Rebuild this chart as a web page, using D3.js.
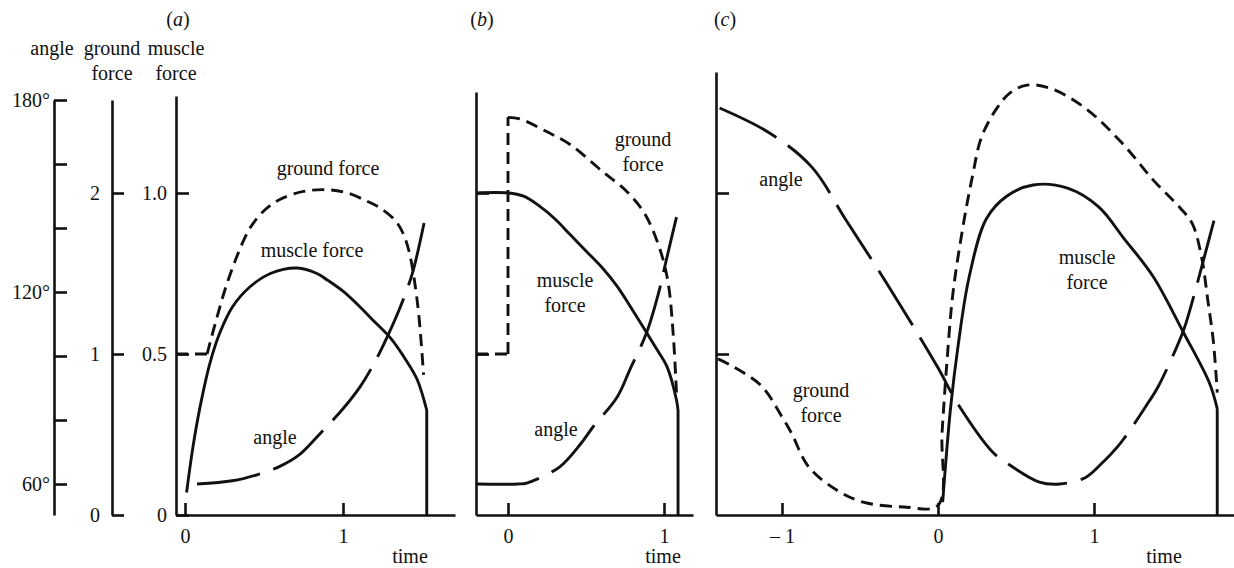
<!DOCTYPE html>
<html>
<head>
<meta charset="utf-8">
<script src="https://cdn.jsdelivr.net/npm/d3@7"></script>
<style>
  body { margin: 0; background: #fff; }
  svg { display: block; font-family: 'Liberation Serif', 'Times New Roman', serif; }
  .axis path, .axis line { stroke: #111; stroke-width: 2.6; }
  .axis text { font-size: 20px; fill: #111; font-family: 'Liberation Serif', serif; }
  .curve { fill: none; stroke: #111; stroke-width: 2.9; }
  .label { font-size: 20px; fill: #111; text-anchor: middle; }
</style>
</head>
<body>
<svg id="chart" width="1234" height="568"></svg>
<script>
// tick values
const angleTicks = [60, 80, 100, 120, 140, 160, 180];
const angleLabels = [60, 120, 180];
const groundTicks = [0, 1, 2];
const muscleTicks = [0, 0.5, 1];
const timeTicksA = [0, 1];
const timeTicksB = [0, 1];
const timeTicksC = [-1, 0, 1];

// [time, value]; a repeated time means a straight jump / corner
// (a)
const groundA = [[-0.057, 1], [0.14, 1], [0.14, 1], [0.2, 1.22], [0.26, 1.42], [0.33, 1.61], [0.41, 1.78], [0.5, 1.89], [0.6, 1.96], [0.75, 2.01], [0.9, 2.02], [1.03, 2.0], [1.15, 1.95], [1.23, 1.91], [1.33, 1.83], [1.38, 1.75], [1.42, 1.63], [1.45, 1.47], [1.48, 1.24], [1.51, 0.87]];
const muscleA = [[0.01, 0.07], [0.05, 0.21], [0.095, 0.335], [0.158, 0.472], [0.22, 0.565], [0.3, 0.646], [0.41, 0.708], [0.54, 0.75], [0.71, 0.767], [0.835, 0.75], [0.9, 0.73], [1.0, 0.695], [1.1, 0.65], [1.2, 0.6], [1.3, 0.55], [1.4, 0.48], [1.47, 0.42], [1.53, 0.326], [1.53, 0]];
const angleA = [[0.076, 60], [0.3, 61], [0.45, 62.8], [0.6, 65.5], [0.72, 69], [0.85, 75.5], [1.0, 83.5], [1.11, 90.5], [1.2, 98], [1.28, 106], [1.36, 115], [1.44, 126], [1.53, 145.6]];
// (b)
const groundB = [[-0.205, 1], [0, 1], [0, 2.47], [0.077, 2.46], [0.25, 2.38], [0.4, 2.3], [0.61, 2.13], [0.75, 2.02], [0.85, 1.91], [0.91, 1.81], [0.99, 1.6], [1.03, 1.42], [1.06, 1.11], [1.08, 0.76]];
const muscleB = [[-0.205, 1], [0, 1], [0.1, 0.99], [0.2, 0.96], [0.3, 0.92], [0.4, 0.87], [0.5, 0.82], [0.6, 0.77], [0.7, 0.71], [0.8, 0.635], [0.89, 0.565], [0.96, 0.51], [1.02, 0.46], [1.08, 0.357], [1.09, 0.326], [1.09, 0]];
const angleB = [[-0.205, 60], [0.064, 60], [0.12, 60.3], [0.33, 65.3], [0.47, 72.8], [0.54, 77.5], [0.7, 87.2], [0.78, 95.6], [0.89, 107.5], [0.97, 120.6], [1.01, 129], [1.08, 143.4]];
// (c)
const groundC = [[-1.41, 0.97], [-1.31, 0.92], [-1.13, 0.8], [-1.0, 0.61], [-0.94, 0.51], [-0.83, 0.3], [-0.65, 0.155], [-0.48, 0.08], [-0.22, 0.05], [0, 0.06], [0.026, 0.51], [0.058, 0.96], [0.096, 1.38], [0.16, 1.79], [0.22, 2.1], [0.28, 2.35], [0.38, 2.53], [0.46, 2.62], [0.57, 2.67], [0.72, 2.65], [0.94, 2.53], [1.18, 2.31], [1.38, 2.08], [1.55, 1.91], [1.63, 1.81], [1.69, 1.6], [1.73, 1.33], [1.765, 1.08], [1.79, 0.76]];
const muscleC = [[0.03, 0.04], [0.08, 0.33], [0.13, 0.53], [0.2, 0.74], [0.31, 0.92], [0.44, 0.99], [0.61, 1.025], [0.83, 1.015], [1.03, 0.957], [1.19, 0.86], [1.38, 0.74], [1.57, 0.57], [1.74, 0.41], [1.79, 0.33], [1.79, 0]];
const angleC = [[-1.4, 177.5], [-1.08, 169.7], [-0.81, 159.1], [-0.59, 142.5], [-0.33, 122.8], [0, 96.3], [0.12, 85.6], [0.35, 70], [0.44, 66.6], [0.65, 60.6], [0.78, 60], [0.94, 61.9], [1.04, 66], [1.17, 72.8], [1.35, 85.6], [1.41, 90.3], [1.57, 107.5], [1.62, 115.3], [1.77, 142.5]];

const svg = d3.select('#chart');
const baseY = 515;

// shared vertical scales
const angleY = d3.scaleLinear().domain([60, 180]).range([484, 100]);
const groundY = d3.scaleLinear().domain([0, 2]).range([baseY, 193]);
const muscleY = d3.scaleLinear().domain([0, 1]).range([baseY, 193]);

// stretch a scale's axis line to the given pixel ends
const stretch = (s, a, b) => s.copy().domain([s.invert(a), s.invert(b)]).range([a, b]);

// left axes
svg.append('g')
  .attr('class', 'axis')
  .attr('transform', 'translate(54,0)')
  .call(d3.axisLeft(stretch(angleY, baseY, 100)).tickValues(angleTicks)
    .tickSize(-13).tickSizeOuter(0).tickPadding(4)
    .tickFormat(d => angleLabels.includes(d) ? d + '°' : ''));

svg.append('g')
  .attr('class', 'axis')
  .attr('transform', 'translate(112,0)')
  .call(d3.axisLeft(stretch(groundY, baseY, 100)).tickValues(groundTicks)
    .tickSize(-12).tickSizeOuter(0).tickPadding(12).tickFormat(d3.format('d')));

const heads = [
  { x: 52, lines: ['angle'] },
  { x: 112, lines: ['ground', 'force'] },
  { x: 176, lines: ['muscle', 'force'] },
];
heads.forEach(h => {
  h.lines.forEach((t, i) => {
    svg.append('text').attr('class', 'label')
      .attr('x', h.x).attr('y', 55 + i * 25).text(t);
  });
});

const panels = [
  { id: 'a', x: d3.scaleLinear().domain([0, 1]).range([185, 343]), left: 176, right: 455, top: 96,
    ticks: timeTicksA, timeX: 410, ground: groundA, muscle: muscleA, angle: angleA, titleX: 178 },
  { id: 'b', x: d3.scaleLinear().domain([0, 1]).range([508, 664]), left: 476, right: 693, top: 92,
    ticks: timeTicksB, timeX: 663, ground: groundB, muscle: muscleB, angle: angleB, titleX: 482 },
  { id: 'c', x: d3.scaleLinear().domain([-1, 1]).range([782, 1094]), left: 716, right: 1234, top: 72,
    ticks: timeTicksC, timeX: 1164, ground: groundC, muscle: muscleC, angle: angleC, titleX: 725 },
];

// smooth pieces, split where time repeats (those joins are straight)
function seriesPath(pts, x, y) {
  const line = d3.line().x(d => x(d[0])).y(d => y(d[1])).curve(d3.curveCatmullRom.alpha(0.5));
  const pieces = [];
  let cur = [pts[0]];
  for (let i = 1; i < pts.length; i++) {
    if (pts[i][0] === pts[i - 1][0]) {
      pieces.push(cur);
      pieces.push([pts[i - 1], pts[i]]);
      cur = [pts[i]];
    } else {
      cur.push(pts[i]);
    }
  }
  pieces.push(cur);
  return pieces.filter(p => p.length > 1).map(p => line(p)).join('');
}

panels.forEach(p => {
  const g = svg.append('g');

  // y axis (muscle force scale)
  const yAxis = d3.axisLeft(stretch(muscleY, baseY, p.top))
    .tickSize(-13).tickSizeOuter(0).tickPadding(9);
  if (p.id === 'a') {
    yAxis.tickValues(muscleTicks).tickFormat(d => d === 0 ? '0' : d3.format('.1f')(d));
  } else {
    yAxis.tickValues([0.5, 1]).tickFormat('');
  }
  g.append('g').attr('class', 'axis')
    .attr('transform', `translate(${p.left},0)`)
    .call(yAxis);

  // time axis
  g.append('g').attr('class', 'axis')
    .attr('transform', `translate(0,${baseY})`)
    .call(d3.axisBottom(stretch(p.x, p.left, p.right)).tickValues(p.ticks)
      .tickSize(-12).tickSizeOuter(0).tickPadding(14)
      .tickFormat(d => d < 0 ? '– ' + (-d) : d));

  g.append('text').attr('class', 'label')
    .attr('x', p.timeX).attr('y', 563).text('time');

  const title = g.append('text').attr('class', 'label').attr('x', p.titleX).attr('y', 26);
  title.append('tspan').text('(');
  title.append('tspan').style('font-style', 'italic').text(p.id);
  title.append('tspan').text(')');

  // curves
  g.append('path').attr('class', 'curve')
    .attr('d', seriesPath(p.ground, p.x, groundY))
    .attr('stroke-dasharray', '12,7');
  g.append('path').attr('class', 'curve')
    .attr('d', seriesPath(p.muscle, p.x, muscleY));
  g.append('path').attr('class', 'curve')
    .attr('d', seriesPath(p.angle, p.x, angleY))
    .attr('stroke-dasharray', '64,14');
});

// curve labels
const curveLabels = [
  { x: 328, y: 175, lines: ['ground force'] },
  { x: 312, y: 257, lines: ['muscle force'] },
  { x: 275, y: 444, lines: ['angle'] },
  { x: 643, y: 146, lines: ['ground', 'force'] },
  { x: 565, y: 287, lines: ['muscle', 'force'] },
  { x: 556, y: 436, lines: ['angle'] },
  { x: 781, y: 186, lines: ['angle'] },
  { x: 1087, y: 264, lines: ['muscle', 'force'] },
  { x: 821, y: 397, lines: ['ground', 'force'] },
];
curveLabels.forEach(l => {
  l.lines.forEach((t, i) => {
    svg.append('text').attr('class', 'label')
      .attr('x', l.x).attr('y', l.y + i * 25).text(t);
  });
});
</script>
</body>
</html>
